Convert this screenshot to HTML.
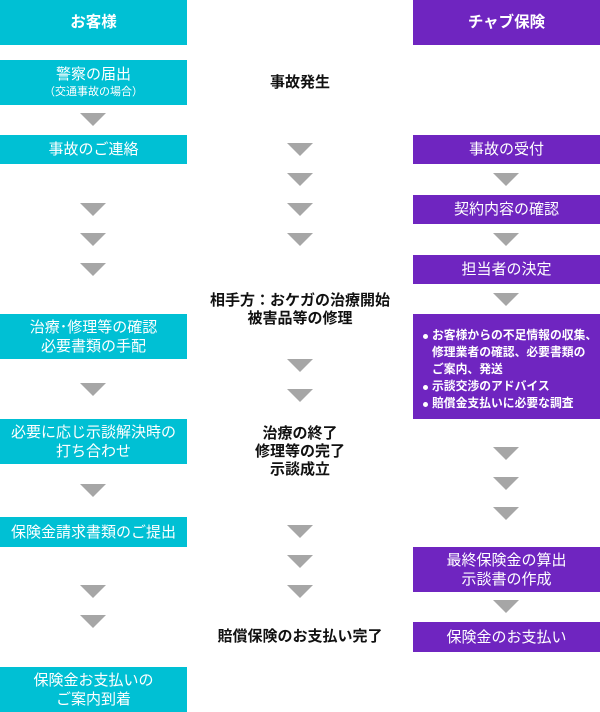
<!DOCTYPE html>
<html><head><meta charset="utf-8"><style>
body{margin:0;width:600px;height:712px;position:relative;background:#fff;overflow:hidden;font-family:"Liberation Sans","Noto Sans CJK JP",sans-serif}
.b{position:absolute;display:flex;flex-direction:column;justify-content:center;align-items:center;color:#fff;font-size:15px;line-height:19px;text-align:center}
.c{background:#00c0d4;left:0;width:187px}
.p{background:#6f25c0;left:413px;width:187px}
.h{font-weight:bold;font-size:15.5px}
.a{position:absolute;width:0;height:0;border-left:13px solid transparent;border-right:13px solid transparent;border-top:13px solid #a6a6a6}
.m{position:absolute;left:180px;width:240px;text-align:center;font-weight:bold;font-size:15px;line-height:18px;color:#111}
ul{margin:0;padding:0;list-style:none;font-size:11.8px;line-height:17px;text-align:left;font-weight:bold}
li{position:relative;padding-left:9px;white-space:nowrap}
li.d:before{content:"";position:absolute;left:0;top:7px;width:5px;height:5px;border-radius:50%;background:#fff}
</style></head><body>
<div class="b c h" style="top:0;height:45px">お客様</div>
<div class="b p h" style="top:0;height:45px">チャブ保険</div>

<div class="b c" style="top:60px;height:45px">警察の届出<span style="font-size:11px;line-height:16px">（交通事故の場合）</span></div>
<div class="b c" style="top:135px;height:29px">事故のご連絡</div>
<div class="b c" style="top:314px;height:45px">治療･修理等の確認<br>必要書類の手配</div>
<div class="b c" style="top:419px;height:45px">必要に応じ示談解決時の<br>打ち合わせ</div>
<div class="b c" style="top:517px;height:30px">保険金請求書類のご提出</div>
<div class="b c" style="top:667px;height:45px">保険金お支払いの<br>ご案内到着</div>

<div class="b p" style="top:135px;height:29px">事故の受付</div>
<div class="b p" style="top:195px;height:29px">契約内容の確認</div>
<div class="b p" style="top:255px;height:29px">担当者の決定</div>
<div class="b p" style="top:314px;height:105px;align-items:flex-start;padding-left:10px;box-sizing:border-box;padding-top:6px"><ul>
<li class="d">お客様からの不足情報の収集、</li><li>修理業者の確認、必要書類の</li><li>ご案内、発送</li><li class="d">示談交渉のアドバイス</li><li class="d">賠償金支払いに必要な調査</li></ul></div>
<div class="b p" style="top:547px;height:45px">最終保険金の算出<br>示談書の作成</div>
<div class="b p" style="top:622px;height:30px">保険金のお支払い</div>

<div class="m" style="top:74px">事故発生</div>
<div class="m" style="top:292px">相手方：おケガの治療開始<br>被害品等の修理</div>
<div class="m" style="top:425px">治療の終了<br>修理等の完了<br>示談成立</div>
<div class="m" style="top:628px">賠償保険のお支払い完了</div>

<div class="a" style="left:80px;top:113px"></div>
<div class="a" style="left:80px;top:203px"></div>
<div class="a" style="left:80px;top:233px"></div>
<div class="a" style="left:80px;top:263px"></div>
<div class="a" style="left:80px;top:383px"></div>
<div class="a" style="left:80px;top:484px"></div>
<div class="a" style="left:80px;top:585px"></div>
<div class="a" style="left:80px;top:615px"></div>

<div class="a" style="left:287px;top:143px"></div>
<div class="a" style="left:287px;top:173px"></div>
<div class="a" style="left:287px;top:203px"></div>
<div class="a" style="left:287px;top:233px"></div>
<div class="a" style="left:287px;top:359px"></div>
<div class="a" style="left:287px;top:389px"></div>
<div class="a" style="left:287px;top:525px"></div>
<div class="a" style="left:287px;top:555px"></div>
<div class="a" style="left:287px;top:585px"></div>

<div class="a" style="left:493px;top:173px"></div>
<div class="a" style="left:493px;top:233px"></div>
<div class="a" style="left:493px;top:293px"></div>
<div class="a" style="left:493px;top:447px"></div>
<div class="a" style="left:493px;top:477px"></div>
<div class="a" style="left:493px;top:507px"></div>
<div class="a" style="left:493px;top:600px"></div>
</body></html>
